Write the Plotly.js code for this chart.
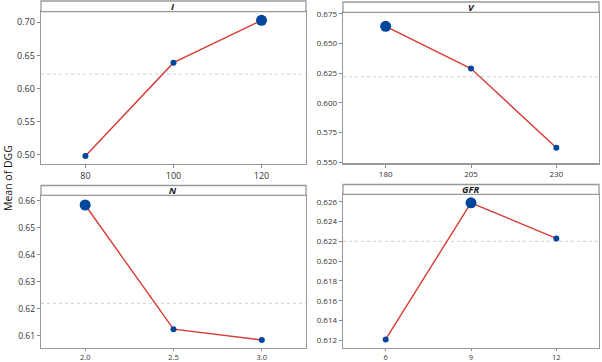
<!DOCTYPE html>
<html>
<head>
<meta charset="utf-8">
<script src="https://cdn.plot.ly/plotly-3.0.1.min.js"></script>
<style>
  html, body { margin: 0; padding: 0; background: #fff; }
  #plot { width: 602px; height: 362px; }
</style>
</head>
<body>
<div id="plot"></div>
<script>
// main effects data (mean of DGG for each factor level)
const factorNames = ["I", "V", "N", "GFR"];
const levelsI = [80, 100, 120];
const meansI = [0.498, 0.639, 0.703];
const levelsV = [180, 205, 230];
const meansV = [0.6646, 0.6289, 0.5621];
const levelsN = [2.0, 2.5, 3.0];
const meansN = [0.6585, 0.6124, 0.6084];
const levelsGFR = [6, 9, 12];
const meansGFR = [0.6121, 0.6259, 0.6223];
const grandMean = 0.622;

const W = 602, H = 362;
// convert pixel positions to paper coords
const px = (x) => x / W;
const py = (y) => 1 - y / H;

// panel boxes in pixels: left, right, strip top, strip bottom, bottom
const panels = [
  { l: 41, r: 306, st: 1, sb: 11.7, b: 164, xr: [69.9, 130.1], yr: [0.486, 0.716], dt: 0.05, fmt: ".2f", xfmt: "", fs: 9 },
  { l: 343, r: 599, st: 2, sb: 12.3, b: 163.3, xr: [167.5, 242.5], yr: [0.549, 0.6764], dt: 0.025, fmt: ".3f", xfmt: "", fs: 8 },
  { l: 41, r: 306, st: 185.5, sb: 195.3, b: 347.5, xr: [1.75, 3.25], yr: [0.6056, 0.6621], dt: 0.01, fmt: ".2f", xfmt: ".1f", fs: 8.5 },
  { l: 343, r: 599, st: 184.5, sb: 194.3, b: 347.5, xr: [4.5, 13.5], yr: [0.61128, 0.62676], dt: 0.002, fmt: ".3f", xfmt: "", fs: 8 },
];

const levels = [levelsI, levelsV, levelsN, levelsGFR];
const means = [meansI, meansV, meansN, meansGFR];

let data = [];
let layout = {
  width: W,
  height: H,
  margin: { l: 0, r: 0, t: 0, b: 0 },
  paper_bgcolor: "#fff",
  plot_bgcolor: "#fff",
  showlegend: false,
  font: { family: "Open Sans, sans-serif", color: "#333" },
  shapes: [],
  annotations: [],
};

panels.forEach((p, i) => {
  const n = i === 0 ? "" : String(i + 1);
  const maxVal = Math.max(...means[i]);
  const bottomRow = i >= 2;

  // the effect line with markers, largest mean gets a bigger dot
  data.push({
    x: levels[i],
    y: means[i],
    xaxis: "x" + n,
    yaxis: "y" + n,
    type: "scatter",
    mode: "lines+markers",
    line: { color: "#d63c35", width: 1.4 },
    marker: {
      color: "#00469a",
      opacity: 1,
      size: means[i].map((v) => (v === maxVal ? 11 : 6)),
      line: { width: 0 },
    },
    hoverinfo: "x+y",
  });

  layout["xaxis" + n] = {
    domain: [px(p.l), px(p.r)],
    anchor: "y" + n,
    range: p.xr,
    tickvals: levels[i],
    tickformat: p.xfmt,
    ticks: "outside",
    ticklen: bottomRow ? 2 : 3,
    tickcolor: "#888",
    showgrid: false,
    zeroline: false,
    showline: true,
    linecolor: "#999",
    linewidth: 1.3,
    mirror: true,
    tickfont: { size: bottomRow ? 7.5 : p.fs, color: "#333" },
  };
  layout["yaxis" + n] = {
    domain: [py(p.b), py(p.sb)],
    anchor: "x" + n,
    range: p.yr,
    dtick: p.dt,
    tick0: 0,
    tickformat: p.fmt,
    ticks: "outside",
    ticklen: 3,
    tickcolor: "#888",
    showgrid: false,
    zeroline: false,
    showline: true,
    linecolor: "#999",
    linewidth: 1.3,
    mirror: true,
    tickfont: { size: p.fs, color: "#333" },
  };

  // grand mean reference line
  layout.shapes.push({
    type: "line",
    xref: "x" + n + " domain",
    yref: "y" + n,
    x0: 0,
    x1: 1,
    y0: grandMean,
    y1: grandMean,
    line: { color: "#cfcfcf", width: 1, dash: "dot" },
    layer: "below",
  });

  // title strip above the panel
  layout.shapes.push({
    type: "rect",
    xref: "paper",
    yref: "paper",
    x0: px(p.l),
    x1: px(p.r),
    y0: py(p.sb),
    y1: py(p.st),
    fillcolor: "#fff",
    line: { color: "#999", width: 1.3 },
  });
  layout.annotations.push({
    text: "<b><i>" + factorNames[i] + "</i></b>",
    xref: "paper",
    yref: "paper",
    x: (px(p.l) + px(p.r)) / 2,
    y: (py(p.sb) + py(p.st)) / 2,
    xanchor: "center",
    yanchor: "middle",
    showarrow: false,
    borderpad: 0,
    font: { size: 9.5, color: "#1a1a1a" },
  });
});

// shared y axis title
layout.annotations.push({
  text: "Mean of DGG",
  xref: "paper",
  yref: "paper",
  x: px(8),
  y: py(178),
  textangle: -90,
  xanchor: "center",
  yanchor: "middle",
  showarrow: false,
  font: { size: 10.5, color: "#111" },
});

Plotly.newPlot("plot", data, layout, { displayModeBar: false, staticPlot: true });
</script>
</body>
</html>
